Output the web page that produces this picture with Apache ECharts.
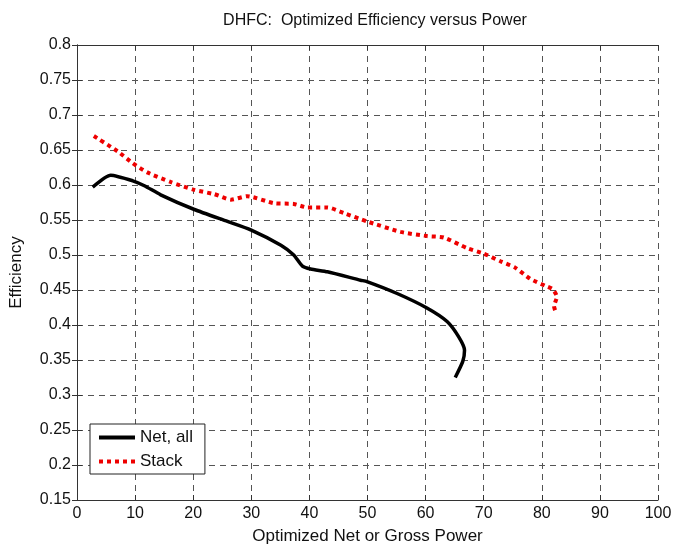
<!DOCTYPE html>
<html>
<head>
<meta charset="utf-8">
<script src="https://cdn.jsdelivr.net/npm/echarts@6/dist/echarts.min.js"></script>
<style>html,body{margin:0;padding:0;background:#fff}#c{width:675px;height:550px}</style>
</head>
<body>
<div id="c"></div>
<script>
const titleText = "DHFC:  Optimized Efficiency versus Power";
const xName = "Optimized Net or Gross Power";
const yName = "Efficiency";
const seriesNames = ["Net, all", "Stack"];

const netX = [2.7, 5.8, 9.6, 11.6, 14.4, 20.2, 25.9, 29.9, 35.1, 37.3, 38.8, 40.2, 43.1, 48.8, 49.9, 55.1, 60.3, 63.7, 65.7, 66.7, 66.4, 65.1];
const netY = [0.597, 0.614, 0.606, 0.599, 0.586, 0.565, 0.548, 0.536, 0.514, 0.500, 0.484, 0.480, 0.476, 0.464, 0.462, 0.445, 0.424, 0.405, 0.383, 0.364, 0.348, 0.325];

const stackX = [2.9, 7.0, 9.6, 12.1, 16.2, 20.2, 23.6, 26.5, 29.3, 33.9, 37.3, 39.6, 43.1, 45.9, 49.9, 55.7, 60.3, 63.1, 67.1, 70.0, 72.9, 75.4, 78.0, 80.6, 81.9, 82.6, 82.1, 82.5];
const stackY = [0.670, 0.648, 0.631, 0.618, 0.604, 0.593, 0.587, 0.579, 0.584, 0.574, 0.573, 0.568, 0.568, 0.560, 0.548, 0.533, 0.527, 0.525, 0.510, 0.502, 0.491, 0.482, 0.466, 0.456, 0.451, 0.440, 0.427, 0.416];

const pair = (xs, ys) => xs.map((x, i) => [x, ys[i]]);
const font = "Liberation Sans, Arial, sans-serif";
const chart = echarts.init(document.getElementById('c'));
const gridDash = {show: true, lineStyle: {color: '#555', type: [6, 5], width: 1}};
chart.setOption({
  animation: false,
  backgroundColor: '#fff',
  title: {text: titleText, left: 370, top: 8, textAlign: 'center',
    textStyle: {fontFamily: font, fontSize: 16, fontWeight: 'normal', color: '#111'}},
  grid: {left: 76, right: 17, top: 45, bottom: 50, containLabel: false},
  legend: {
    orient: 'vertical', left: 90, top: 424, itemWidth: 36, itemHeight: 14, itemGap: 7,
    padding: [5, 12, 4, 7],
    borderColor: '#222', borderWidth: 1, backgroundColor: '#fff',
    itemStyle: {opacity: 0},
    lineStyle: {width: 4},
    textStyle: {fontFamily: font, fontSize: 17, color: '#111'},
    data: seriesNames
  },
  xAxis: [
    {type: 'value', min: 0, max: 100, interval: 10, position: 'bottom',
      name: xName, nameLocation: 'middle', nameGap: 28,
      nameTextStyle: {fontFamily: font, fontSize: 17, color: '#111'},
      axisLine: {show: true, onZero: false, lineStyle: {color: '#333'}},
      axisTick: {show: true, inside: true, length: 5, lineStyle: {color: '#333'}},
      axisLabel: {fontFamily: font, fontSize: 16, color: '#111', margin: 6},
      splitLine: gridDash},
    {type: 'value', min: 0, max: 100, interval: 10, position: 'top',
      axisLine: {show: true, lineStyle: {color: '#333'}},
      axisTick: {show: true, inside: true, length: 5, lineStyle: {color: '#333'}},
      axisLabel: {show: false}, splitLine: {show: false}}
  ],
  yAxis: [
    {type: 'value', min: 0.15, max: 0.8, interval: 0.05, position: 'left',
      name: yName, nameLocation: 'middle', nameGap: 52, nameRotate: 90,
      nameTextStyle: {fontFamily: font, fontSize: 17, color: '#111'},
      axisLine: {show: true, onZero: false, lineStyle: {color: '#333'}},
      axisTick: {show: true, inside: true, length: 5, lineStyle: {color: '#333'}},
      axisLabel: {fontFamily: font, fontSize: 16, color: '#111', margin: 6,
        formatter: v => String(Math.round(v * 100) / 100)},
      splitLine: gridDash},
    {type: 'value', min: 0.15, max: 0.8, interval: 0.05, position: 'right',
      axisLine: {show: true, lineStyle: {color: '#333'}},
      axisTick: {show: true, inside: true, length: 5, lineStyle: {color: '#333'}},
      axisLabel: {show: false}, splitLine: {show: false}}
  ],
  series: [
    {name: seriesNames[0], type: 'line', data: pair(netX, netY), symbol: 'none', smooth: 0.2,
      lineStyle: {color: '#000', width: 3.5}, itemStyle: {color: '#000'}, z: 3},
    {name: seriesNames[1], type: 'line', data: pair(stackX, stackY), symbol: 'none', smooth: 0.2,
      lineStyle: {color: '#ee0000', width: 4, type: [4, 4]}, itemStyle: {color: '#ee0000'}, z: 4}
  ]
});
</script>
</body>
</html>
